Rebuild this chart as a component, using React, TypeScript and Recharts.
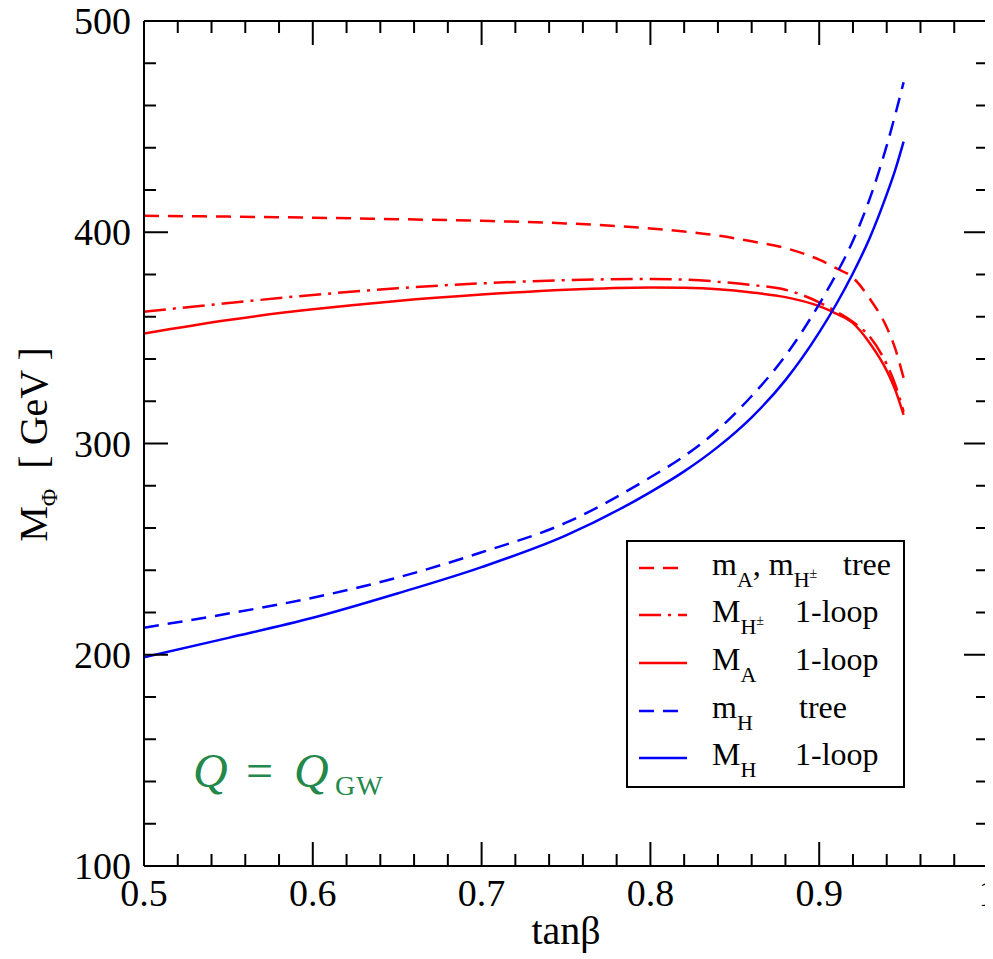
import React from 'react';
import { LineChart, Line, XAxis, YAxis, Legend } from 'recharts';

// tan(beta) grid
const tanBeta = [0.5, 0.55, 0.6, 0.65, 0.7, 0.75, 0.8, 0.82, 0.84, 0.86, 0.88, 0.9, 0.91, 0.92, 0.93, 0.94, 0.945, 0.95];
// m_A, m_H± tree
const mATree = [407.8, 407.4, 406.9, 406.2, 405.4, 404.2, 401.8, 400.3, 398.4, 395.7, 392.5, 387, 383, 378.5, 368.5, 355, 345, 331];
// M_H± 1-loop
const mHpmLoop = [362.4, 366.5, 370.3, 373.5, 375.8, 377.3, 377.9, 377.6, 376.6, 375, 372.8, 366.8, 362.5, 357.5, 350.5, 337.5, 328, 315];
// M_A 1-loop
const mALoop = [352.1, 358.5, 363.5, 367.5, 370.5, 372.8, 373.9, 373.7, 373, 371.5, 369.3, 365, 361.5, 357, 347.5, 334.5, 325.5, 313.5];
// m_H tree
const mHTree = [212.8, 219.5, 227, 236.5, 248.5, 262.5, 284, 294, 306.5, 322.5, 341.5, 366, 380, 396, 416, 441, 455.5, 471];
// M_H 1-loop
const mHLoop = [198.8, 208, 217.5, 229, 241.5, 256.5, 277, 286.8, 298.4, 312.4, 330, 352.6, 365.8, 380.6, 397.4, 417.9, 429.4, 442.9];

const xTicks = [0.5, 0.52, 0.54, 0.56, 0.58, 0.6, 0.62, 0.64, 0.66, 0.68, 0.7, 0.72, 0.74, 0.76, 0.78, 0.8, 0.82, 0.84, 0.86, 0.88, 0.9, 0.92, 0.94, 0.96, 0.98, 1];
const xMajor = [0.5, 0.6, 0.7, 0.8, 0.9, 1];
const yTicks = [100, 120, 140, 160, 180, 200, 220, 240, 260, 280, 300, 320, 340, 360, 380, 400, 420, 440, 460, 480, 500];
const yMajor = [100, 200, 300, 400, 500];

const data = tanBeta.map((t, i) => ({
  t,
  mATree: mATree[i],
  mHpmLoop: mHpmLoop[i],
  mALoop: mALoop[i],
  mHTree: mHTree[i],
  mHLoop: mHLoop[i],
}));

const RED = '#ff0000';
const BLUE = '#0000ff';
const DASH = '15 9';
const DASHDOT = '22 7 3 7';
const FONT = '"Liberation Serif", "Times New Roman", Times, serif';
const TS = { fontFamily: FONT } as React.CSSProperties;

const series = [
  { key: 'mATree', color: RED, dash: DASH },
  { key: 'mHpmLoop', color: RED, dash: DASHDOT },
  { key: 'mALoop', color: RED, dash: undefined },
  { key: 'mHTree', color: BLUE, dash: DASH },
  { key: 'mHLoop', color: BLUE, dash: undefined },
];

const isMajor = (v: number, list: number[]) => list.some((m) => Math.abs(m - v) < 1e-9);
const MAJ = 24;
const MIN = 12;

const BottomTick = (props: any) => {
  const { x, y, payload } = props;
  const major = isMajor(payload.value, xMajor);
  return (
    <g>
      <line x1={x} y1={y} x2={x} y2={y - (major ? MAJ : MIN)} stroke="#000" strokeWidth={2} />
      {major && (
        <text x={x} y={y + 40} textAnchor="middle" fontSize={38} fontFamily={FONT} style={TS} fill="#000">
          {String(payload.value)}
        </text>
      )}
    </g>
  );
};

const TopTick = (props: any) => {
  const { x, y, payload } = props;
  const major = isMajor(payload.value, xMajor);
  return <line x1={x} y1={y} x2={x} y2={y + (major ? MAJ : MIN)} stroke="#000" strokeWidth={2} />;
};

const LeftTick = (props: any) => {
  const { x, y, payload } = props;
  const major = isMajor(payload.value, yMajor);
  return (
    <g>
      <line x1={x} y1={y} x2={x + (major ? MAJ : MIN)} y2={y} stroke="#000" strokeWidth={2} />
      {major && (
        <text x={x - 13} y={y + 13} textAnchor="end" fontSize={38} fontFamily={FONT} style={TS} fill="#000">
          {String(payload.value)}
        </text>
      )}
    </g>
  );
};

const RightTick = (props: any) => {
  const { x, y, payload } = props;
  const major = isMajor(payload.value, yMajor);
  return <line x1={x} y1={y} x2={x - (major ? MAJ : MIN)} y2={y} stroke="#000" strokeWidth={2} />;
};

const XTitle = (props: any) => {
  const vb = props.viewBox || { x: 136, y: 858, width: 844, height: 93 };
  return (
    <text x={vb.x + vb.width / 2} y={vb.y + 78} textAnchor="middle" fontSize={40} fontFamily={FONT} style={TS} fill="#000">
      tanβ
    </text>
  );
};

const YTitle = (props: any) => {
  const vb = props.viewBox || { x: 0, y: 13, width: 136, height: 845 };
  const cx = vb.x + 39;
  const cy = vb.y + vb.height / 2 + 1;
  return (
    <text transform={`translate(${cx},${cy}) rotate(-90)`} textAnchor="middle" fontSize={40} fontFamily={FONT} style={TS} fill="#000">
      M<tspan fontSize={24} dy={10}>Φ</tspan>
      <tspan dy={-10}>{'\u00A0\u00A0[ GeV ]'}</tspan>
    </text>
  );
};

const SUB = 22;
const legendRows = [
  {
    main: (
      <>
        m<tspan fontSize={SUB} dy={12}>A</tspan>
        <tspan dy={-12}>, m</tspan>
        <tspan fontSize={SUB} dy={12}>H</tspan>
        <tspan fontSize={14} dy={-9}>±</tspan>
      </>
    ),
    right: 'tree',
    rx: 217,
  },
  {
    main: (
      <>
        M<tspan fontSize={SUB} dy={12}>H</tspan>
        <tspan fontSize={14} dy={-9}>±</tspan>
      </>
    ),
    right: '1-loop',
    rx: 169,
  },
  {
    main: (
      <>
        M<tspan fontSize={SUB} dy={12}>A</tspan>
      </>
    ),
    right: '1-loop',
    rx: 169,
  },
  {
    main: (
      <>
        m<tspan fontSize={SUB} dy={12}>H</tspan>
      </>
    ),
    right: 'tree',
    rx: 173,
  },
  {
    main: (
      <>
        M<tspan fontSize={SUB} dy={12}>H</tspan>
      </>
    ),
    right: '1-loop',
    rx: 169,
  },
];

const LEG_W = 279;
const LEG_H = 248;
const rowYs = [28, 75, 123, 171, 218];

const LegendBox = () => (
  <svg width={LEG_W} height={LEG_H} style={{ display: 'block' }}>
    <rect x={1} y={1} width={LEG_W - 2} height={LEG_H - 2} fill="#fff" stroke="#000" strokeWidth={2} />
    {series.map((s, i) => (
      <g key={s.key}>
        <line x1={13} x2={61} y1={rowYs[i]} y2={rowYs[i]} stroke={s.color} strokeWidth={2.5} strokeDasharray={s.dash} />
        <text x={86} y={rowYs[i] + 7} fontSize={32} fontFamily={FONT} style={TS} fill="#000">
          {legendRows[i].main}
        </text>
        <text x={legendRows[i].rx} y={rowYs[i] + 7} fontSize={32} fontFamily={FONT} style={TS} fill="#000">
          {legendRows[i].right}
        </text>
      </g>
    ))}
  </svg>
);

export default function App() {
  return (
    <div style={{ position: 'relative', width: 985, height: 951, fontFamily: FONT }}>
      <LineChart width={985} height={951} data={data} margin={{ top: 0, right: 0, bottom: 0, left: 0 }} style={{ fontFamily: FONT }}>
        <XAxis
          dataKey="t"
          type="number"
          domain={[0.5, 1]}
          allowDataOverflow
          ticks={xTicks}
          interval={0}
          tick={<BottomTick />}
          tickLine={false}
          tickSize={0}
          tickMargin={0}
          height={93}
          axisLine={{ stroke: '#000', strokeWidth: 2 }}
          label={<XTitle />}
        />
        <XAxis
          xAxisId="top"
          orientation="top"
          dataKey="t"
          type="number"
          domain={[0.5, 1]}
          allowDataOverflow
          ticks={xTicks}
          interval={0}
          tick={<TopTick />}
          tickLine={false}
          tickSize={0}
          tickMargin={0}
          height={13}
          axisLine={{ stroke: '#000', strokeWidth: 2 }}
        />
        <YAxis
          type="number"
          domain={[100, 500]}
          allowDataOverflow
          ticks={yTicks}
          interval={0}
          tick={<LeftTick />}
          tickLine={false}
          tickSize={0}
          tickMargin={0}
          width={136}
          axisLine={{ stroke: '#000', strokeWidth: 2 }}
          label={<YTitle />}
        />
        <YAxis
          yAxisId="right"
          orientation="right"
          type="number"
          domain={[100, 500]}
          allowDataOverflow
          ticks={yTicks}
          interval={0}
          tick={<RightTick />}
          tickLine={false}
          tickSize={0}
          tickMargin={0}
          width={5}
          axisLine={{ stroke: '#000', strokeWidth: 2 }}
        />
        {series.map((s) => (
          <Line
            key={s.key}
            dataKey={s.key}
            type="monotone"
            stroke={s.color}
            strokeWidth={2.5}
            strokeDasharray={s.dash}
            dot={false}
            activeDot={false}
            isAnimationActive={false}
          />
        ))}
        <Legend
          layout="horizontal"
          verticalAlign="middle"
          align="center"
          content={() => <LegendBox />}
          wrapperStyle={{ position: 'absolute', left: 618, top: 532, width: LEG_W, height: LEG_H, margin: 0, padding: 0 }}
        />
      </LineChart>
      <svg
        width={985}
        height={951}
        style={{ position: 'absolute', left: 0, top: 0, pointerEvents: 'none' }}
      >
        <g fill="#23884a" fontFamily={FONT} style={TS}>
          <text x={185} y={779} fontSize={48} fontStyle="italic">Q</text>
          <text x={238} y={779} fontSize={48}>=</text>
          <text x={286} y={779} fontSize={48} fontStyle="italic">Q</text>
          <text x={327} y={787} fontSize={28} letterSpacing={1}>GW</text>
        </g>
      </svg>
    </div>
  );
}
